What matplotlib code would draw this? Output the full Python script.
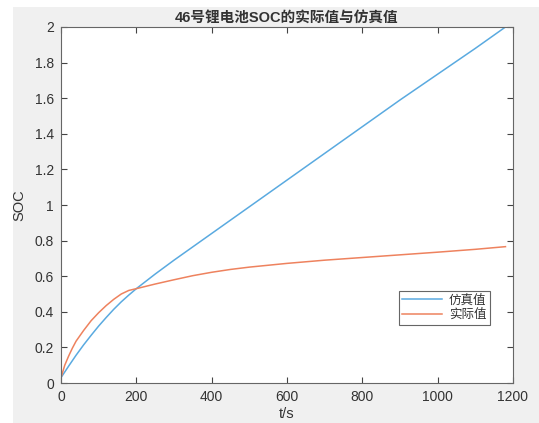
import matplotlib.pyplot as plt
from matplotlib.patches import Rectangle

plt.rcParams['font.family'] = ['Liberation Sans', 'Noto Sans CJK SC', 'DejaVu Sans']

# simulated SOC (blue)
t_sim = [0, 20, 40, 60, 80, 100, 120, 140, 160, 180, 200, 250, 300,
         400, 500, 600, 700, 800, 900, 1000, 1100, 1180]
soc_sim = [0.03, 0.094, 0.156, 0.214, 0.268, 0.32, 0.368, 0.414, 0.456, 0.494, 0.53,
           0.612, 0.69, 0.84, 0.99, 1.14, 1.29, 1.44, 1.59, 1.735, 1.88, 2.0]

# measured SOC (orange)
t_real = [0, 10, 20, 30, 40, 60, 80, 100, 120, 140, 160, 180, 200, 250, 300,
          350, 400, 450, 500, 600, 700, 800, 900, 1000, 1100, 1180]
soc_real = [0.03, 0.10, 0.15, 0.195, 0.235, 0.295, 0.35, 0.395, 0.435, 0.47, 0.50,
            0.52, 0.53, 0.556, 0.58, 0.603, 0.622, 0.638, 0.651, 0.672, 0.69,
            0.705, 0.72, 0.735, 0.751, 0.766]

title = "46号锂电池SOC的实际值与仿真值"
labels = ["仿真值", "实际值"]

fig = plt.figure(figsize=(5.39, 4.23), dpi=100)
fig.patch.set_facecolor('white')
# matlab grey figure area
fig.patches.append(Rectangle((13/539, 0), 1 - 13/539, 1 - 7/423,
                             transform=fig.transFigure, facecolor='#f0f0f0',
                             edgecolor='none', zorder=-10))

ax = fig.add_axes([61/539, 40/423, 452/539, 356/423])
ax.set_facecolor('white')
ax.plot(t_sim, soc_sim, color='#5aaae0', lw=1.1, label=labels[0])
ax.plot(t_real, soc_real, color='#ee825e', lw=1.1, label=labels[1])

ax.set_xlim(0, 1200)
ax.set_ylim(0, 2)
ax.set_xticks(range(0, 1201, 200))
ax.set_yticks([i * 0.2 for i in range(11)])
ax.set_yticklabels(['0', '0.2', '0.4', '0.6', '0.8', '1', '1.2', '1.4', '1.6', '1.8', '2'])
ax.tick_params(direction='in', length=4, width=0.8, top=True, right=True,
               labelsize=10, colors='#444444', labelcolor='#333333', pad=5)
for s in ax.spines.values():
    s.set_color('#666666')
    s.set_linewidth(0.8)

ax.set_xlabel("t/s", fontsize=10.5, color='#333333', labelpad=2)
ax.set_ylabel("SOC", fontsize=10.5, color='#333333', labelpad=6)
ax.set_title(title, fontsize=10.5, fontweight='bold', color='#333333', pad=4)

leg = ax.legend(loc='lower right', bbox_to_anchor=(0.949, 0.163), fontsize=9,
                fancybox=False, framealpha=1, edgecolor='#666666',
                handlelength=3.2, borderpad=0.3, labelspacing=0.2,
                handletextpad=0.5, borderaxespad=0)
leg.get_frame().set_linewidth(0.8)
for txt in leg.get_texts():
    txt.set_color('#333333')

fig.savefig("out.png", dpi=100)
